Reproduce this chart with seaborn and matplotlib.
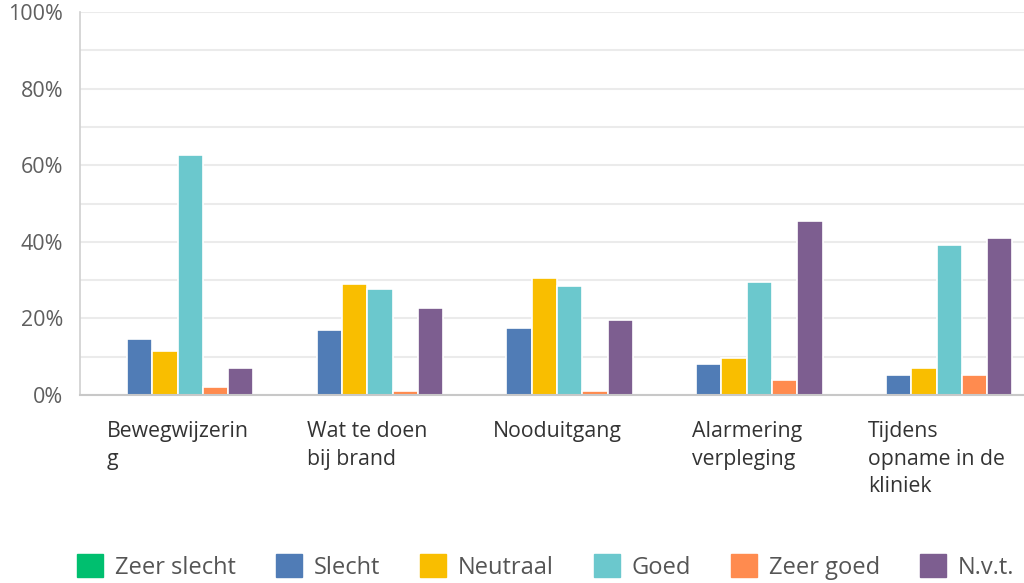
import matplotlib
matplotlib.use("Agg")
import matplotlib.pyplot as plt
from matplotlib.patches import Patch
from matplotlib.ticker import MultipleLocator, FuncFormatter
import matplotlib.transforms as mtransforms
import pandas as pd
import seaborn as sns

categories = ["Bewegwijzering", "Wat te doen bij brand", "Nooduitgang",
              "Alarmering verpleging", "Tijdens opname in de kliniek"]
category_labels = ["Bewegwijzerin\ng", "Wat te doen\nbij brand", "Nooduitgang",
                   "Alarmering\nverpleging", "Tijdens\nopname in de\nkliniek"]
answers = ["Zeer slecht", "Slecht", "Neutraal", "Goed", "Zeer goed", "N.v.t."]

zeer_slecht = [0.0, 0.0, 0.0, 0.0, 0.0]
slecht = [14.6, 17.1, 17.5, 8.0, 5.1]
neutraal = [11.6, 29.1, 30.5, 9.6, 7.0]
goed = [62.6, 27.6, 28.5, 29.6, 39.1]
zeer_goed = [2.2, 1.0, 1.0, 4.0, 5.1]
nvt = [7.1, 22.6, 19.6, 45.5, 41.0]

colors = ["#00BF6F", "#507CB6", "#F9BE00", "#6BC8CD", "#FF8B4F", "#7D5E90"]

series = [zeer_slecht, slecht, neutraal, goed, zeer_goed, nvt]
rows = []
for ans, vals in zip(answers, series):
    for cat, v in zip(categories, vals):
        rows.append({"categorie": cat, "antwoord": ans, "pct": v})
df = pd.DataFrame(rows)

sns.set_theme(style="white")
plt.rcParams["font.family"] = ["Open Sans", "DejaVu Sans"]

fig = plt.figure(figsize=(10.24, 5.83), dpi=100)
ax = fig.add_axes([80 / 1024, 1 - 395 / 583, 1 - 80 / 1024, (395 - 12) / 583])

sns.barplot(data=df, x="categorie", y="pct", hue="antwoord", order=categories,
            hue_order=answers, palette=colors, width=0.8, edgecolor="white",
            linewidth=1.2, saturation=1, legend=False, ax=ax, zorder=3)

ax.set_ylim(0, 100)
ax.set_xlim(-0.514, 4.461)
ax.yaxis.set_major_locator(MultipleLocator(20))
ax.yaxis.set_minor_locator(MultipleLocator(10))
ax.yaxis.set_major_formatter(FuncFormatter(lambda v, p: f"{int(v)}%"))
ax.grid(axis="y", which="both", color="#ebebeb", linewidth=1.5, zorder=0)
ax.set_axisbelow(True)
ax.tick_params(axis="y", which="both", length=0, labelsize=15.5, labelcolor="#5f5f5f", pad=12)
ax.tick_params(axis="x", length=0)
ax.set_xticks(range(len(categories)))
ax.set_xticklabels([])
ax.set_xlabel("")
ax.set_ylabel("")

for s in ["top", "right"]:
    ax.spines[s].set_visible(False)
ax.spines["left"].set_color("#d0d0d0")
ax.spines["left"].set_linewidth(1.2)
ax.spines["bottom"].set_color("#c8c8c8")
ax.spines["bottom"].set_linewidth(1.5)
ax.spines["bottom"].set_zorder(6)
ax.spines["left"].set_zorder(6)

# category labels: block centred under each group, lines left-aligned
trans = mtransforms.blended_transform_factory(ax.transData, ax.transAxes)
for i, lab in enumerate(category_labels):
    ax.text(i, -0.068, lab, transform=trans, ha="center", va="top",
            multialignment="left", fontsize=15.3, color="#333333", linespacing=1.42)

handles = [Patch(facecolor=c, edgecolor=c) for c in colors]
fig.legend(handles, answers, loc="center left", bbox_to_anchor=(77 / 1024, 16 / 583),
           ncol=6, frameon=False, fontsize=17, handlelength=1.1, handleheight=1.1,
           handletextpad=0.5, columnspacing=1.7, labelcolor="#555555", borderpad=0,
           borderaxespad=0)

fig.savefig("out.png", dpi=100)
